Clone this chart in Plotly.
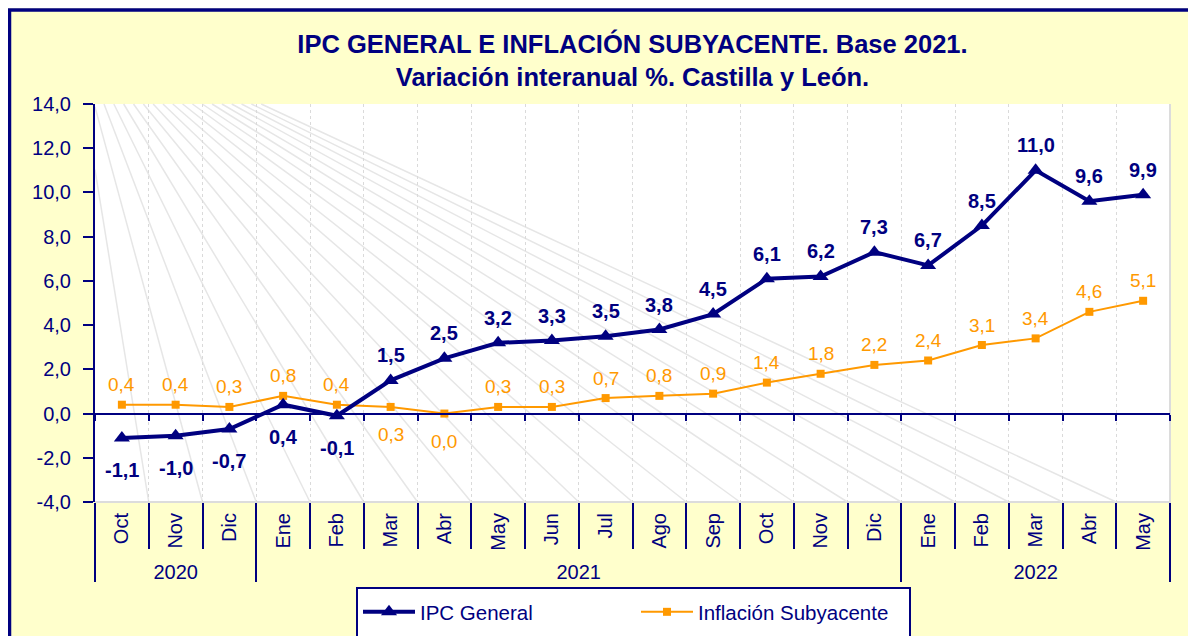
import plotly.graph_objects as go

# ---------------- data ----------------
months = ["Oct", "Nov", "Dic", "Ene", "Feb", "Mar", "Abr", "May", "Jun", "Jul",
          "Ago", "Sep", "Oct", "Nov", "Dic", "Ene", "Feb", "Mar", "Abr", "May"]
years = ["2020", "2021", "2022"]
year_counts = [3, 12, 5]
ipc_general = [-1.1, -1.0, -0.7, 0.4, -0.1, 1.5, 2.5, 3.2, 3.3, 3.5,
               3.8, 4.5, 6.1, 6.2, 7.3, 6.7, 8.5, 11.0, 9.6, 9.9]
subyacente = [0.4, 0.4, 0.3, 0.8, 0.4, 0.3, 0.0, 0.3, 0.3, 0.7,
              0.8, 0.9, 1.4, 1.8, 2.2, 2.4, 3.1, 3.4, 4.6, 5.1]
ipc_label_below = [True, True, True, True, True] + [False] * 15
sub_label_below = [False] * 5 + [True, True] + [False] * 13
y_ticks = [-4, -2, 0, 2, 4, 6, 8, 10, 12, 14]

NAVY = "#000080"
ORANGE = "#FF9900"
YELLOW = "#FFFFCC"
FONT = "Arial, Liberation Sans, sans-serif"

idx = list(range(len(months)))

def fmt(v):
    return f"{v:.1f}".replace(".", ",")

# ---------------- geometry (screen px; the page body adds an 8px offset) ----------------
OFF = 8
W, H = 1196 - OFF, 636 - OFF
L, R, T, B = 95, 1170, 104, 502
PAPER_B = 546
ml, mr, mt, mb = L - OFF, (W + OFF) - R, T - OFF, (H + OFF) - PAPER_B
paper_h = PAPER_B - T
d0 = (PAPER_B - B) / paper_h
ymin, ymax = -4, 14
zero_pos = d0 + (0 - ymin) / (ymax - ymin) * (1 - d0)

def sx(px):
    return (px - L) / (R - L)

def sy(py):
    return (PAPER_B - py) / paper_h

fig = go.Figure()

fig.add_trace(go.Scatter(
    x=idx, y=subyacente, name="Inflación Subyacente", mode="lines+markers",
    line=dict(color=ORANGE, width=2),
    marker=dict(symbol="square", size=8, color=ORANGE),
    legendrank=2, hoverinfo="skip"))
fig.add_trace(go.Scatter(
    x=idx, y=ipc_general, name="IPC General", mode="lines+markers",
    line=dict(color=NAVY, width=4),
    marker=dict(symbol="triangle-up", size=14, color=NAVY),
    legendrank=1, hoverinfo="skip"))
for ax in ["x2", "x3"]:
    fig.add_trace(go.Scatter(x=[0], y=[None], xaxis=ax, yaxis="y",
                             mode="markers", showlegend=False, hoverinfo="skip",
                             marker=dict(opacity=0)))

# ---------------- data labels ----------------
annotations = []
for i, v in enumerate(ipc_general):
    below = ipc_label_below[i]
    annotations.append(dict(
        x=i, y=v, xref="x", yref="y", text=fmt(v), showarrow=False,
        yanchor="middle", yshift=-32 if below else 25,
        font=dict(family=FONT, size=20, color=NAVY, weight="bold")))
for i, v in enumerate(subyacente):
    below = sub_label_below[i]
    annotations.append(dict(
        x=i, y=v, xref="x", yref="y", text=fmt(v), showarrow=False,
        yanchor="middle", yshift=-28 if below else 20,
        font=dict(family=FONT, size=19, color=ORANGE)))

# ---------------- decorative shapes ----------------
shapes = []
shapes.append(dict(type="rect", xref="paper", yref="paper", layer="below",
                   x0=sx(9.5), x1=sx(1210), y0=sy(660), y1=sy(10),
                   fillcolor="rgba(0,0,0,0)", line=dict(color=NAVY, width=3.5)))
shapes.append(dict(type="rect", xref="paper", yref="paper", layer="below",
                   x0=sx(357), x1=sx(910), y0=sy(650), y1=sy(588),
                   fillcolor="white", line=dict(color=NAVY, width=2)))
shapes.append(dict(type="path", xref="x domain", yref="y domain", layer="below",
                   path="M 1 1 L 1 0 L 0 0", line=dict(color="#DCDCDC", width=2)))
n_cat = len(months)
ox, oy = 70, 15
for k in range(1, n_cat):
    bx = L + k * (R - L) / n_cat
    dx, dy = bx - ox, B - oy
    t1 = max((L - ox) / dx, (T - oy) / dy)
    x1p, y1p = ox + t1 * dx, oy + t1 * dy
    shapes.append(dict(type="line", xref="x domain", yref="y domain", layer="below",
                       x0=(x1p - L) / (R - L), y0=(B - y1p) / (B - T),
                       x1=(bx - L) / (R - L), y1=0,
                       line=dict(color="#E6E6E6", width=1.5)))

bounds = [-0.5]
for c in year_counts:
    bounds.append(bounds[-1] + c)
year_centers = [(bounds[k] + bounds[k + 1]) / 2 for k in range(len(years))]

fig.update_layout(
    width=W, height=H,
    margin=dict(l=ml, r=mr, t=mt, b=mb, pad=0, autoexpand=False),
    paper_bgcolor=YELLOW, plot_bgcolor="white",
    separators=",.",
    font=dict(family=FONT, color=NAVY),
    title=dict(text="IPC GENERAL E INFLACIÓN SUBYACENTE. Base 2021.<br>Variación interanual %. Castilla y León.",
               x=0.5, xref="paper", xanchor="center",
               y=1 - 45 / H, yref="container", yanchor="top",
               font=dict(family=FONT, size=25.5, color=NAVY, weight="bold")),
    xaxis=dict(range=[-0.5, 19.5], anchor="y", tickmode="array", tickvals=idx,
               ticktext=months, tickangle=-90, ticks="", showgrid=False,
               zeroline=False, showline=False, automargin=False,
               ticklabelstandoff=6,
               tickfont=dict(family=FONT, size=20, color=NAVY),
               minor=dict(ticks="outside", ticklen=46, tickwidth=2, tickcolor=NAVY,
                          tick0=-0.5, dtick=1, showgrid=True, griddash="3px,3px",
                          gridcolor="#DADADA", gridwidth=1.2)),
    xaxis2=dict(range=[-0.5, 19.5], overlaying="x", anchor="free", position=zero_pos,
                side="bottom", showline=True, linecolor=NAVY, linewidth=2,
                showticklabels=False, ticks="", showgrid=False, zeroline=False,
                automargin=False,
                minor=dict(ticks="outside", ticklen=6, tickwidth=2, tickcolor=NAVY,
                           tick0=-0.5, dtick=1, showgrid=False)),
    xaxis3=dict(range=[-0.5, 19.5], overlaying="x", anchor="free", position=0,
                side="bottom", showline=False, tickmode="array", tickvals=year_centers,
                ticktext=years, ticks="", showgrid=False, zeroline=False,
                automargin=False, ticklabelstandoff=12,
                tickfont=dict(family=FONT, size=20, color=NAVY),
                minor=dict(tickmode="array", tickvals=bounds, ticks="outside",
                           ticklen=35, tickwidth=2, tickcolor=NAVY, showgrid=False)),
    yaxis=dict(domain=[d0, 1], range=[ymin, ymax], tickmode="array", tickvals=y_ticks,
               ticktext=[fmt(v) for v in y_ticks],
               ticks="outside", ticklen=10, tickwidth=2, tickcolor=NAVY,
               ticklabelstandoff=8, automargin=False,
               showline=True, linecolor=NAVY, linewidth=2, showgrid=False, zeroline=False,
               tickfont=dict(family=FONT, size=20, color=NAVY)),
    legend=dict(orientation="h", x=sx(358), y=sy(592),
                xanchor="left", yanchor="top", bgcolor="rgba(0,0,0,0)",
                borderwidth=0, itemwidth=52,
                font=dict(family=FONT, size=20.5, color=NAVY),
                entrywidth=211, entrywidthmode="pixels"),
    annotations=annotations,
    shapes=shapes,
    showlegend=True,
)

fig.write_html("out.html")
